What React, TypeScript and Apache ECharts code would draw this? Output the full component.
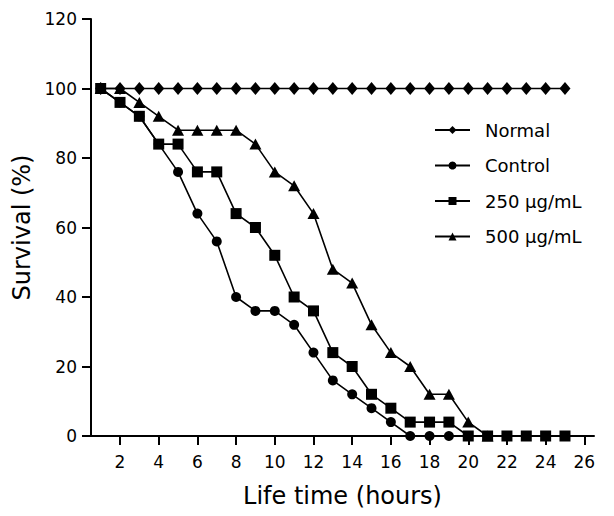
import React, { useEffect, useRef } from "react";
import * as echarts from "echarts";

const hours = [1, 2, 3, 4, 5, 6, 7, 8, 9, 10, 11, 12, 13, 14, 15, 16, 17, 18, 19, 20, 21, 22, 23, 24, 25];
const normalValues = [100, 100, 100, 100, 100, 100, 100, 100, 100, 100, 100, 100, 100, 100, 100, 100, 100, 100, 100, 100, 100, 100, 100, 100, 100];
const controlValues = [100, 96, 92, 84, 76, 64, 56, 40, 36, 36, 32, 24, 16, 12, 8, 4, 0, 0, 0, 0];
const dose250Values = [100, 96, 92, 84, 84, 76, 76, 64, 60, 52, 40, 36, 24, 20, 12, 8, 4, 4, 4, 0, 0, 0, 0, 0, 0];
const dose500Values = [100, 100, 96, 92, 88, 88, 88, 88, 84, 76, 72, 64, 48, 44, 32, 24, 20, 12, 12, 4, 0];
const xTickLabels = [2, 4, 6, 8, 10, 12, 14, 16, 18, 20, 22, 24, 26];
const seriesNames = ["Normal", "Control", "250 μg/mL", "500 μg/mL"];

const FONT = "DejaVu Sans";

function pairs(values: number[]) {
  return values.map((v, i) => [hours[i], v]);
}

export default function App() {
  const ref = useRef<HTMLDivElement>(null);
  useEffect(() => {
    document.body.style.margin = "0";
    const chart = echarts.init(ref.current!, null, { renderer: "svg" });
    const lineStyle = { color: "#000", width: 1.6 };
    const itemStyle = { color: "#000" };
    const mk = (name: string, values: number[], symbol: string, size: any, z: number) => ({
      name,
      type: "line",
      data: pairs(values),
      symbol,
      symbolSize: size,
      showAllSymbol: true,
      lineStyle,
      itemStyle,
      z,
      emphasis: { disabled: true },
    });
    chart.setOption({
      animation: false,
      backgroundColor: "#fff",
      grid: { left: 91, top: 19, right: 20, bottom: 80, containLabel: false },
      legend: {
        left: 429,
        top: 116,
        orient: "vertical",
        itemWidth: 35,
        itemHeight: 10,
        itemGap: 17.5,
        data: seriesNames,
        textStyle: { fontFamily: FONT, fontSize: 18, color: "#000", lineHeight: 18, padding: [0, 0, 0, 10] },
      },
      xAxis: {
        type: "value",
        min: 0.5,
        max: 26.5,
        name: "Life time (hours)",
        nameLocation: "middle",
        nameGap: 48,
        nameTextStyle: { fontFamily: FONT, fontSize: 24, color: "#000" },
        axisLine: { show: true, lineStyle: { color: "#000", width: 2 } },
        axisTick: { show: true, length: 9, lineStyle: { color: "#000", width: 2 }, customValues: xTickLabels },
        axisLabel: { fontFamily: FONT, fontSize: 17, color: "#000", margin: 17, customValues: xTickLabels },
        splitLine: { show: false },
      },
      yAxis: {
        type: "value",
        min: 0,
        max: 120,
        interval: 20,
        name: "Survival (%)",
        nameLocation: "middle",
        nameGap: 55,
        nameRotate: 90,
        nameTextStyle: { fontFamily: FONT, fontSize: 24, color: "#000" },
        axisLine: { show: true, lineStyle: { color: "#000", width: 2 } },
        axisTick: { show: true, length: 9, lineStyle: { color: "#000", width: 2 } },
        axisLabel: { fontFamily: FONT, fontSize: 17, color: "#000", margin: 14 },
        splitLine: { show: false },
      },
      series: [
        mk(seriesNames[0], normalValues, "diamond", [11, 13], 2),
        mk(seriesNames[1], controlValues, "circle", 10, 3),
        mk(seriesNames[2], dose250Values, "rect", 11, 5),
        mk(seriesNames[3], dose500Values, "triangle", [12, 11], 4),
      ],
    });
    return () => chart.dispose();
  }, []);
  return <div ref={ref} style={{ width: 614, height: 516 }} />;
}
